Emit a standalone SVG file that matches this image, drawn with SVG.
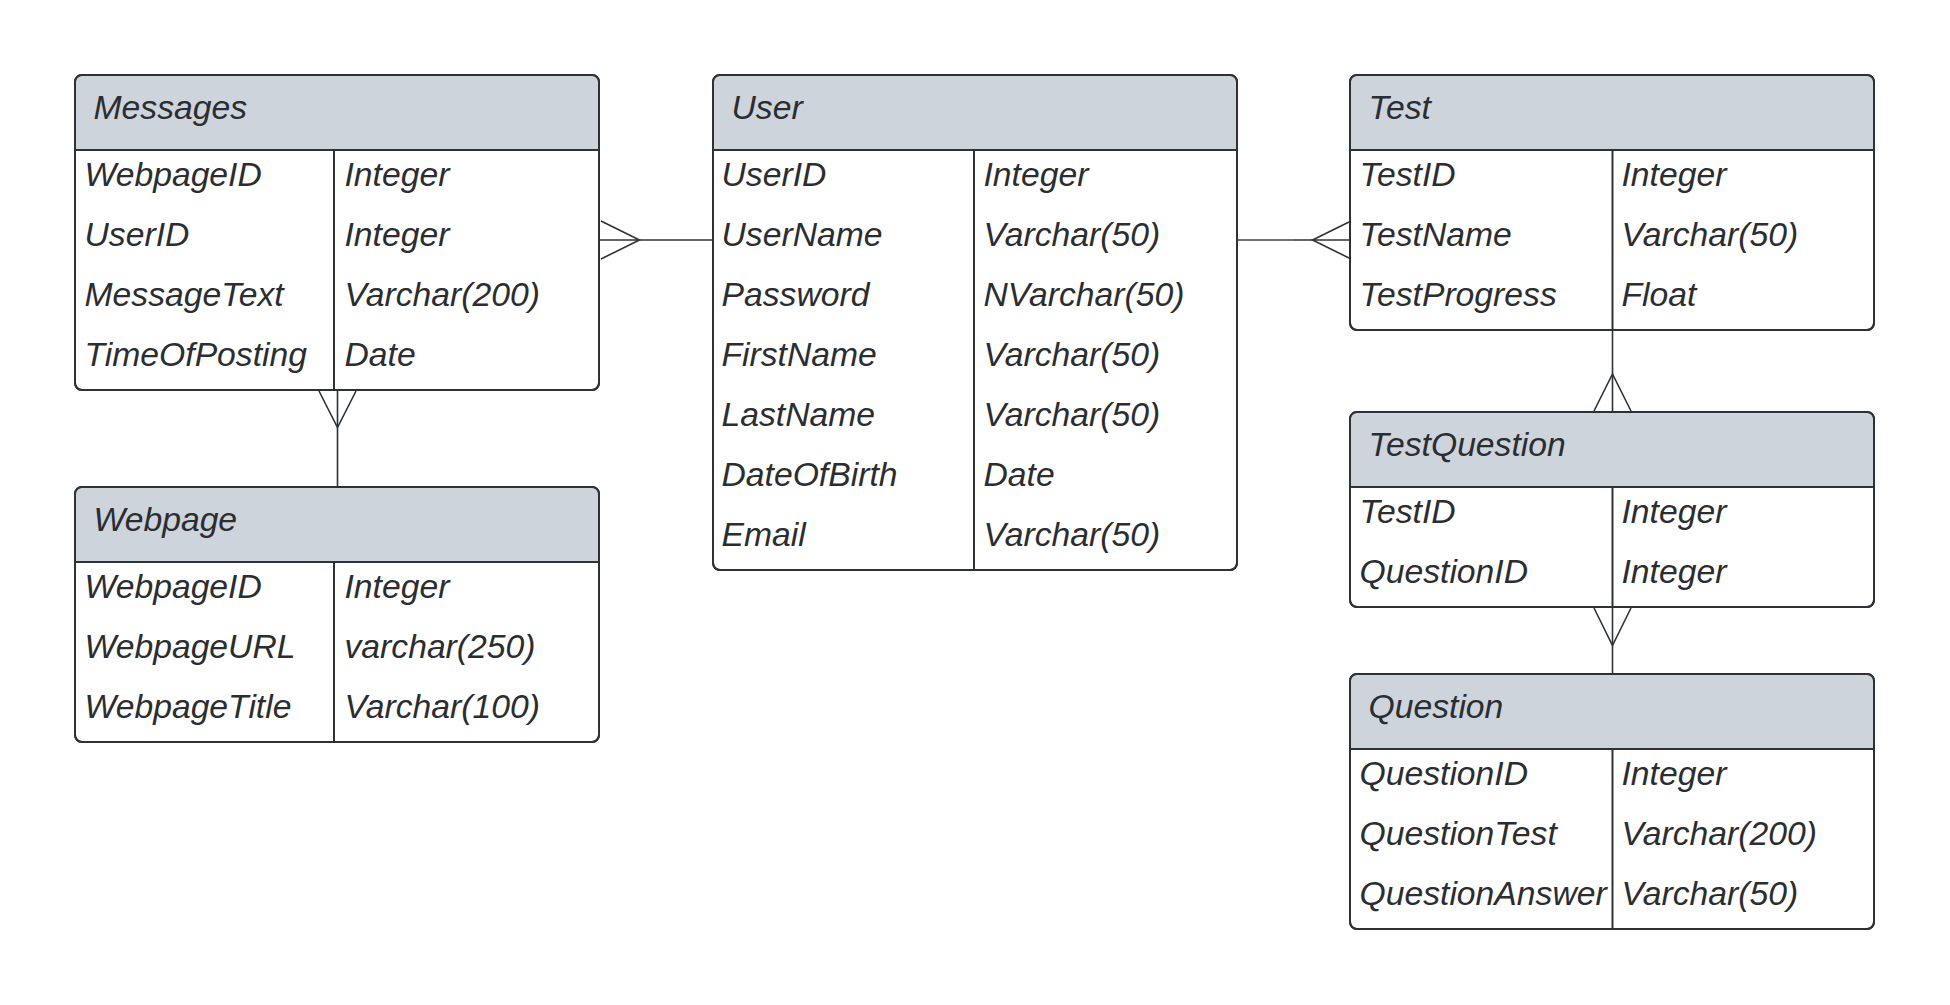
<svg xmlns="http://www.w3.org/2000/svg" width="1950" height="1005" viewBox="0 0 1950 1005">
<style>
.box{fill:#ffffff;stroke:#2e3136;stroke-width:2}
.hdr{fill:#ced4dc}
.ln{stroke:#2e3136;stroke-width:2;fill:none}
.t{font-family:"Liberation Sans",Arial,sans-serif;font-style:italic;font-size:33.7px;fill:#2b2d31}
.c{stroke:#2e3136;stroke-width:1.6;fill:none}
</style>
<rect width="1950" height="1005" fill="#ffffff"/>

<g id="connectors">
  <!-- Messages - User -->
  <line class="c" x1="600" y1="240" x2="713" y2="240"/>
  <polyline class="c" points="601,221 639.5,240 601,259"/>
  <!-- User - Test -->
  <line x1="1238" y1="240" x2="1294" y2="240" stroke="#6e7075" stroke-width="2"/>
  <line class="c" x1="1294" y1="240" x2="1350" y2="240"/>
  <polyline class="c" points="1349,222 1312.5,240 1349,258"/>
  <!-- Messages - Webpage -->
  <line class="c" x1="337.5" y1="391" x2="337.5" y2="487"/>
  <polyline class="c" points="319,391 337.5,427.5 356,391"/>
  <!-- Test - TestQuestion -->
  <line class="c" x1="1612.5" y1="330" x2="1612.5" y2="412"/>
  <polyline class="c" points="1594,411 1612.5,374 1631,411"/>
  <!-- TestQuestion - Question -->
  <line class="c" x1="1612.5" y1="608" x2="1612.5" y2="674"/>
  <polyline class="c" points="1594,608 1612.5,645.5 1631,608"/>
</g>

<g id="messages">
  <rect class="box" x="75" y="75" width="524" height="315" rx="7"/>
  <path class="hdr" d="M82,76 H592 Q598,76 598,82 V149 H76 V82 Q76,76 82,76 Z"/>
  <rect x="75" y="75" width="524" height="315" rx="7" fill="none" stroke="#2e3136" stroke-width="2"/>
  <line class="ln" x1="75" y1="150" x2="599" y2="150"/>
  <line class="ln" x1="334" y1="150" x2="334" y2="390"/>
  <text class="t" x="93.5" y="119">Messages</text>
  <text class="t" x="84.5" y="186">WebpageID</text>
  <text class="t" x="344.5" y="186">Integer</text>
  <text class="t" x="84.5" y="246">UserID</text>
  <text class="t" x="344.5" y="246">Integer</text>
  <text class="t" x="84.5" y="306">MessageText</text>
  <text class="t" x="344.5" y="306">Varchar(200)</text>
  <text class="t" x="84.5" y="366">TimeOfPosting</text>
  <text class="t" x="344.5" y="366">Date</text>
</g>

<g id="webpage">
  <rect class="box" x="75" y="487" width="524" height="255" rx="7"/>
  <path class="hdr" d="M82,488 H592 Q598,488 598,494 V562 H76 V494 Q76,488 82,488 Z"/>
  <rect x="75" y="487" width="524" height="255" rx="7" fill="none" stroke="#2e3136" stroke-width="2"/>
  <line class="ln" x1="75" y1="562" x2="599" y2="562"/>
  <line class="ln" x1="334" y1="562" x2="334" y2="742"/>
  <text class="t" x="93.5" y="531">Webpage</text>
  <text class="t" x="84.5" y="598">WebpageID</text>
  <text class="t" x="344.5" y="598">Integer</text>
  <text class="t" x="84.5" y="658">WebpageURL</text>
  <text class="t" x="344.5" y="658">varchar(250)</text>
  <text class="t" x="84.5" y="718">WebpageTitle</text>
  <text class="t" x="344.5" y="718">Varchar(100)</text>
</g>

<g id="user">
  <rect class="box" x="713" y="75" width="524" height="495" rx="7"/>
  <path class="hdr" d="M720,76 H1230 Q1236,76 1236,82 V149 H714 V82 Q714,76 720,76 Z"/>
  <rect x="713" y="75" width="524" height="495" rx="7" fill="none" stroke="#2e3136" stroke-width="2"/>
  <line class="ln" x1="713" y1="150" x2="1237" y2="150"/>
  <line class="ln" x1="974" y1="150" x2="974" y2="570"/>
  <text class="t" x="731.5" y="119">User</text>
  <text class="t" x="721.5" y="186">UserID</text>
  <text class="t" x="983.5" y="186">Integer</text>
  <text class="t" x="721.5" y="246">UserName</text>
  <text class="t" x="983.5" y="246">Varchar(50)</text>
  <text class="t" x="721.5" y="306">Password</text>
  <text class="t" x="983.5" y="306">NVarchar(50)</text>
  <text class="t" x="721.5" y="366">FirstName</text>
  <text class="t" x="983.5" y="366">Varchar(50)</text>
  <text class="t" x="721.5" y="426">LastName</text>
  <text class="t" x="983.5" y="426">Varchar(50)</text>
  <text class="t" x="721.5" y="486">DateOfBirth</text>
  <text class="t" x="983.5" y="486">Date</text>
  <text class="t" x="721.5" y="546">Email</text>
  <text class="t" x="983.5" y="546">Varchar(50)</text>
</g>

<g id="test">
  <rect class="box" x="1350" y="75" width="524" height="255" rx="7"/>
  <path class="hdr" d="M1357,76 H1867 Q1873,76 1873,82 V149 H1351 V82 Q1351,76 1357,76 Z"/>
  <rect x="1350" y="75" width="524" height="255" rx="7" fill="none" stroke="#2e3136" stroke-width="2"/>
  <line class="ln" x1="1350" y1="150" x2="1874" y2="150"/>
  <line class="ln" x1="1612.5" y1="150" x2="1612.5" y2="330"/>
  <text class="t" x="1368.5" y="119">Test</text>
  <text class="t" x="1359.5" y="186">TestID</text>
  <text class="t" x="1621.5" y="186">Integer</text>
  <text class="t" x="1359.5" y="246">TestName</text>
  <text class="t" x="1621.5" y="246">Varchar(50)</text>
  <text class="t" x="1359.5" y="306">TestProgress</text>
  <text class="t" x="1621.5" y="306">Float</text>
</g>

<g id="testquestion">
  <rect class="box" x="1350" y="412" width="524" height="195" rx="7"/>
  <path class="hdr" d="M1357,413 H1867 Q1873,413 1873,419 V486 H1351 V419 Q1351,413 1357,413 Z"/>
  <rect x="1350" y="412" width="524" height="195" rx="7" fill="none" stroke="#2e3136" stroke-width="2"/>
  <line class="ln" x1="1350" y1="487" x2="1874" y2="487"/>
  <line class="ln" x1="1612.5" y1="487" x2="1612.5" y2="607"/>
  <text class="t" x="1368.5" y="456">TestQuestion</text>
  <text class="t" x="1359.5" y="523">TestID</text>
  <text class="t" x="1621.5" y="523">Integer</text>
  <text class="t" x="1359.5" y="583">QuestionID</text>
  <text class="t" x="1621.5" y="583">Integer</text>
</g>

<g id="question">
  <rect class="box" x="1350" y="674" width="524" height="255" rx="7"/>
  <path class="hdr" d="M1357,675 H1867 Q1873,675 1873,681 V749 H1351 V681 Q1351,675 1357,675 Z"/>
  <rect x="1350" y="674" width="524" height="255" rx="7" fill="none" stroke="#2e3136" stroke-width="2"/>
  <line class="ln" x1="1350" y1="749" x2="1874" y2="749"/>
  <line class="ln" x1="1612.5" y1="749" x2="1612.5" y2="929"/>
  <text class="t" x="1368.5" y="718">Question</text>
  <text class="t" x="1359.5" y="785">QuestionID</text>
  <text class="t" x="1621.5" y="785">Integer</text>
  <text class="t" x="1359.5" y="845">QuestionTest</text>
  <text class="t" x="1621.5" y="845">Varchar(200)</text>
  <text class="t" x="1359.5" y="905">QuestionAnswer</text>
  <text class="t" x="1621.5" y="905">Varchar(50)</text>
</g>
</svg>
